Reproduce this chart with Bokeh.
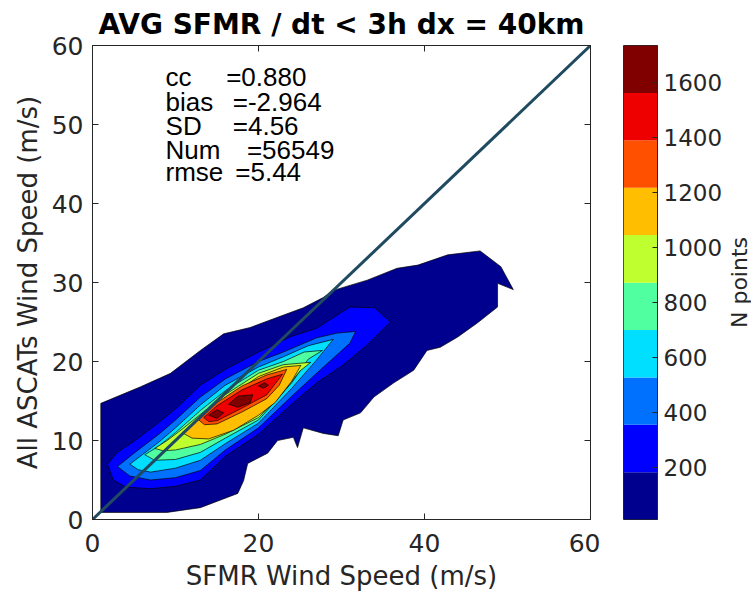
import math
from bokeh.plotting import figure
from bokeh.models import Range1d, LinearAxis, FixedTicker, Label, ColumnDataSource, CustomJSTickFormatter
from bokeh.layouts import row
from bokeh.embed import file_html
from bokeh.resources import INLINE
from bokeh.core.properties import value

# ---------------- data ----------------
title_text = "AVG SFMR / dt < 3h dx = 40km"
x_label = "SFMR Wind Speed (m/s)"
y_label = "All ASCATs Wind Speed (m/s)"
cbar_label = "N points"

x_ticks = [0, 20, 40, 60]
y_ticks = [0, 10, 20, 30, 40, 50, 60]
cbar_ticks = [200, 400, 600, 800, 1000, 1200, 1400, 1600]
one_to_one = [0, 60]

# contour levels (N points) and band colours (MATLAB jet)
levels = [10, 182, 355, 527, 700, 872, 1045, 1217, 1390, 1562, 1735]
colors = ["#00008F", "#0000FF", "#0070FF", "#00DFFF", "#50FF9F",
          "#BFFF30", "#FFBF00", "#FF5000", "#EF0000", "#800000"]

stat_names = ["cc", "bias", "SD", "Num", "rmse"]
stat_values = ["=0.880", "=-2.964", "=4.56", "=56549", "=5.44"]

# contour outlines (x = SFMR, y = ASCAT), one per level
c1_x = [1.0, 5.8, 9.4, 13.0, 15.8, 19.0, 22.3, 25.4, 27.8, 29.0, 33.1, 36.7, 39.2, 42.8, 46.7, 49.2, 50.7,
        48.8, 48.8, 46.4, 44.0, 41.9, 40.3, 38.7, 36.3, 33.9, 32.3, 30.2, 29.6, 27.8, 25.4, 24.7, 24.2,
        22.3, 21.1, 18.7, 18.2, 17.5, 13.0, 9.0, 1.0]
c1_y = [14.7, 16.8, 18.5, 21.4, 23.5, 24.3, 25.6, 26.8, 28.1, 29.0, 30.3, 31.8, 32.2, 33.5, 34.0, 32.0, 29.1,
        29.9, 26.9, 24.9, 23.1, 21.8, 21.4, 18.9, 17.3, 15.5, 13.5, 12.6, 10.6, 10.9, 11.6, 9.1, 10.4,
        10.0, 8.4, 7.1, 4.9, 3.3, 1.5, 0.9, 0.9]

c2_x = [1.8, 3.0, 5.0, 8.0, 10.0, 13.0, 16.0, 20.0, 24.0, 27.0, 31.0, 34.0, 35.9,
        33.0, 30.0, 27.0, 24.0, 20.0, 16.0, 13.0, 10.0, 7.0, 4.0, 2.5]
c2_y = [7.0, 8.5, 9.9, 12.3, 14.0, 17.0, 19.0, 21.2, 23.2, 24.2, 26.9, 26.8, 25.0,
        22.0, 19.4, 17.3, 14.6, 10.8, 8.0, 5.0, 4.2, 3.9, 4.1, 5.0]

c3_x = [3.0, 5.0, 8.0, 10.0, 13.0, 16.0, 20.0, 23.0, 27.0, 29.5, 31.7,
        31.0, 27.5, 24.0, 20.0, 16.0, 13.0, 10.0, 7.0, 4.5]
c3_y = [6.7, 8.4, 10.8, 12.6, 15.5, 17.8, 20.0, 21.2, 23.0, 23.6, 23.8,
        22.3, 19.0, 15.6, 11.6, 8.8, 6.2, 5.3, 5.0, 5.5]

c4_x = [4.5, 6.0, 8.0, 10.0, 13.0, 16.0, 20.0, 23.0, 26.0, 29.0,
        27.0, 24.0, 20.0, 16.0, 13.0, 10.0, 7.0, 5.5]
c4_y = [7.0, 8.2, 9.8, 11.6, 14.5, 17.0, 19.3, 20.6, 22.0, 22.8,
        20.2, 16.6, 12.2, 9.6, 7.5, 6.5, 6.0, 6.3]

c5_x = [6.3, 8.0, 10.0, 13.0, 16.0, 20.0, 23.0, 25.5, 27.7,
        26.0, 24.0, 20.0, 16.0, 13.0, 10.0, 7.5]
c5_y = [8.2, 9.3, 11.0, 13.8, 16.3, 18.9, 20.0, 21.2, 21.4,
        20.3, 17.3, 12.6, 10.3, 8.5, 7.6, 7.5]

c6_x = [7.5, 9.0, 11.0, 13.0, 16.0, 20.0, 23.0, 26.3,
        25.0, 22.5, 20.0, 16.0, 13.0, 10.0, 8.5]
c6_y = [9.0, 10.0, 11.6, 13.3, 15.8, 18.5, 19.6, 19.9,
        18.8, 15.5, 12.9, 10.8, 9.5, 8.8, 8.7]

c7_x = [10.8, 13.0, 16.0, 20.0, 23.0, 25.1, 24.0, 22.0, 20.0, 17.0, 14.0, 12.0]
c7_y = [11.0, 12.9, 15.2, 18.1, 19.3, 19.5, 17.5, 14.8, 13.2, 11.3, 10.2, 10.3]

c8_x = [12.8, 15.0, 18.0, 21.0, 23.4, 22.5, 21.0, 18.0, 15.0, 13.5]
c8_y = [12.6, 14.8, 16.9, 18.3, 19.0, 17.0, 15.3, 13.6, 12.1, 12.0]

c9_x = [13.4, 15.0, 18.0, 21.0, 22.9, 21.0, 18.0, 15.0, 14.0]
c9_y = [12.9, 14.4, 16.4, 17.8, 18.4, 15.8, 14.1, 12.5, 12.4]

c10a_x = [14.0, 15.0, 15.8, 15.0]
c10a_y = [13.2, 13.9, 13.5, 12.8]
c10b_x = [16.4, 17.5, 19.3, 19.0, 17.5]
c10b_y = [14.6, 15.6, 15.8, 14.8, 14.2]
c10c_x = [20.0, 20.7, 21.2, 20.6]
c10c_y = [16.9, 17.3, 17.0, 16.6]

contours = [
    (0, c1_x, c1_y), (1, c2_x, c2_y), (2, c3_x, c3_y), (3, c4_x, c4_y),
    (4, c5_x, c5_y), (5, c6_x, c6_y), (6, c7_x, c7_y), (7, c8_x, c8_y),
    (8, c9_x, c9_y), (9, c10a_x, c10a_y), (9, c10b_x, c10b_y), (9, c10c_x, c10c_y),
]

# ---------------- styles ----------------
AX = "#262626"
FONT = "DejaVu Sans"

p = figure(width=600, height=594, x_range=Range1d(0, 60), y_range=Range1d(0, 60),
           output_backend="svg", toolbar_location=None,
           min_border_left=92, min_border_right=10, min_border_top=45, min_border_bottom=75)
p.background_fill_color = "white"
p.border_fill_color = "white"
p.grid.visible = False
p.outline_line_color = AX
p.outline_line_width = 1

src = ColumnDataSource(dict(
    xs=[c[1] for c in contours],
    ys=[c[2] for c in contours],
    color=[colors[c[0]] for c in contours],
))
p.patches("xs", "ys", fill_color="color", line_color="black", line_width=0.8,
          line_alpha=0.85, source=src)

p.line(one_to_one, one_to_one, line_color="#1f4a5f", line_width=3)

p.title.text = title_text
p.title.align = "center"
p.title.text_font = FONT
p.title.text_font_size = "28px"
p.title.text_font_style = "bold"
p.title.text_color = "black"
p.title.standoff = 9

for ax in (p.xaxis[0], p.yaxis[0]):
    ax.major_tick_in = 6
    ax.major_tick_out = 0
    ax.minor_tick_line_color = None
    ax.axis_line_color = AX
    ax.major_tick_line_color = AX
    ax.major_label_text_font = FONT
    ax.major_label_text_font_size = "25px"
    ax.major_label_text_color = AX
    ax.axis_label_text_font = FONT
    ax.axis_label_text_font_size = "26px"
    ax.axis_label_text_font_style = "normal"
    ax.axis_label_text_color = AX

p.xaxis.ticker = FixedTicker(ticks=x_ticks)
p.yaxis.ticker = FixedTicker(ticks=y_ticks)
p.xaxis.axis_label = x_label
p.yaxis.axis_label = y_label
p.xaxis.major_label_standoff = 14
p.xaxis.axis_label_standoff = 6
p.yaxis.major_label_standoff = 9
p.yaxis.axis_label_standoff = 6

blank = CustomJSTickFormatter(code="return ''")
for side, tk in (("above", x_ticks), ("right", y_ticks)):
    a = LinearAxis(ticker=FixedTicker(ticks=tk), formatter=blank,
                   major_label_standoff=0, major_tick_in=6, major_tick_out=0,
                   minor_tick_line_color=None, axis_line_color=AX, major_tick_line_color=AX)
    p.add_layout(a, side)

# statistics text
stat_y = [56.0, 52.8, 49.8, 46.8, 44.0]
eq_x = [16.1, 16.9, 16.9, 18.6, 17.2]
for name, val, yy, ex in zip(stat_names, stat_values, stat_y, eq_x):
    p.add_layout(Label(x=8.8, y=yy, text=name, text_font="Liberation Sans",
                       text_font_size="26px", text_color="black", text_baseline="alphabetic"))
    p.add_layout(Label(x=ex, y=yy, text=val, text_font="Liberation Sans",
                       text_font_size="26px", text_color="black", text_baseline="alphabetic"))

# ---------------- colour bar ----------------
cb = figure(width=125, height=594, x_range=Range1d(0, 1), y_range=Range1d(levels[0], levels[-1]),
            x_axis_location=None, y_axis_location="right",
            output_backend="svg", toolbar_location=None,
            min_border_left=23, min_border_right=66, min_border_top=45, min_border_bottom=75)
cb.background_fill_color = "white"
cb.border_fill_color = "white"
cb.grid.visible = False
cb.outline_line_color = AX
cb.quad(left=0, right=1, bottom=levels[:-1], top=levels[1:], fill_color=colors, line_color=None)
cax = cb.yaxis[0]
cax.ticker = FixedTicker(ticks=cbar_ticks)
cax.major_tick_in = 5
cax.major_tick_out = 0
cax.minor_tick_line_color = None
cax.axis_line_color = AX
cax.major_tick_line_color = AX
cax.major_label_text_font = FONT
cax.major_label_text_font_size = "23px"
cax.major_label_text_color = AX
cax.major_label_standoff = 6

# colour-bar label strip
lab = figure(width=26, height=594, x_range=Range1d(0, 1), y_range=Range1d(levels[0], levels[-1]),
             x_axis_location=None, y_axis_location=None,
             output_backend="svg", toolbar_location=None,
             min_border_left=0, min_border_right=0, min_border_top=45, min_border_bottom=75)
lab.background_fill_color = "white"
lab.border_fill_color = "white"
lab.outline_line_color = None
lab.grid.visible = False
lab.text(x=[0.55], y=[(levels[0] + levels[-1]) / 2], text=[cbar_label], angle=math.pi / 2,
         text_align="center", text_baseline="middle", text_font=value(FONT),
         text_font_size="22px", text_color=AX)

layout = row(p, cb, lab)
open("out.html", "w").write(file_html(layout, INLINE))
